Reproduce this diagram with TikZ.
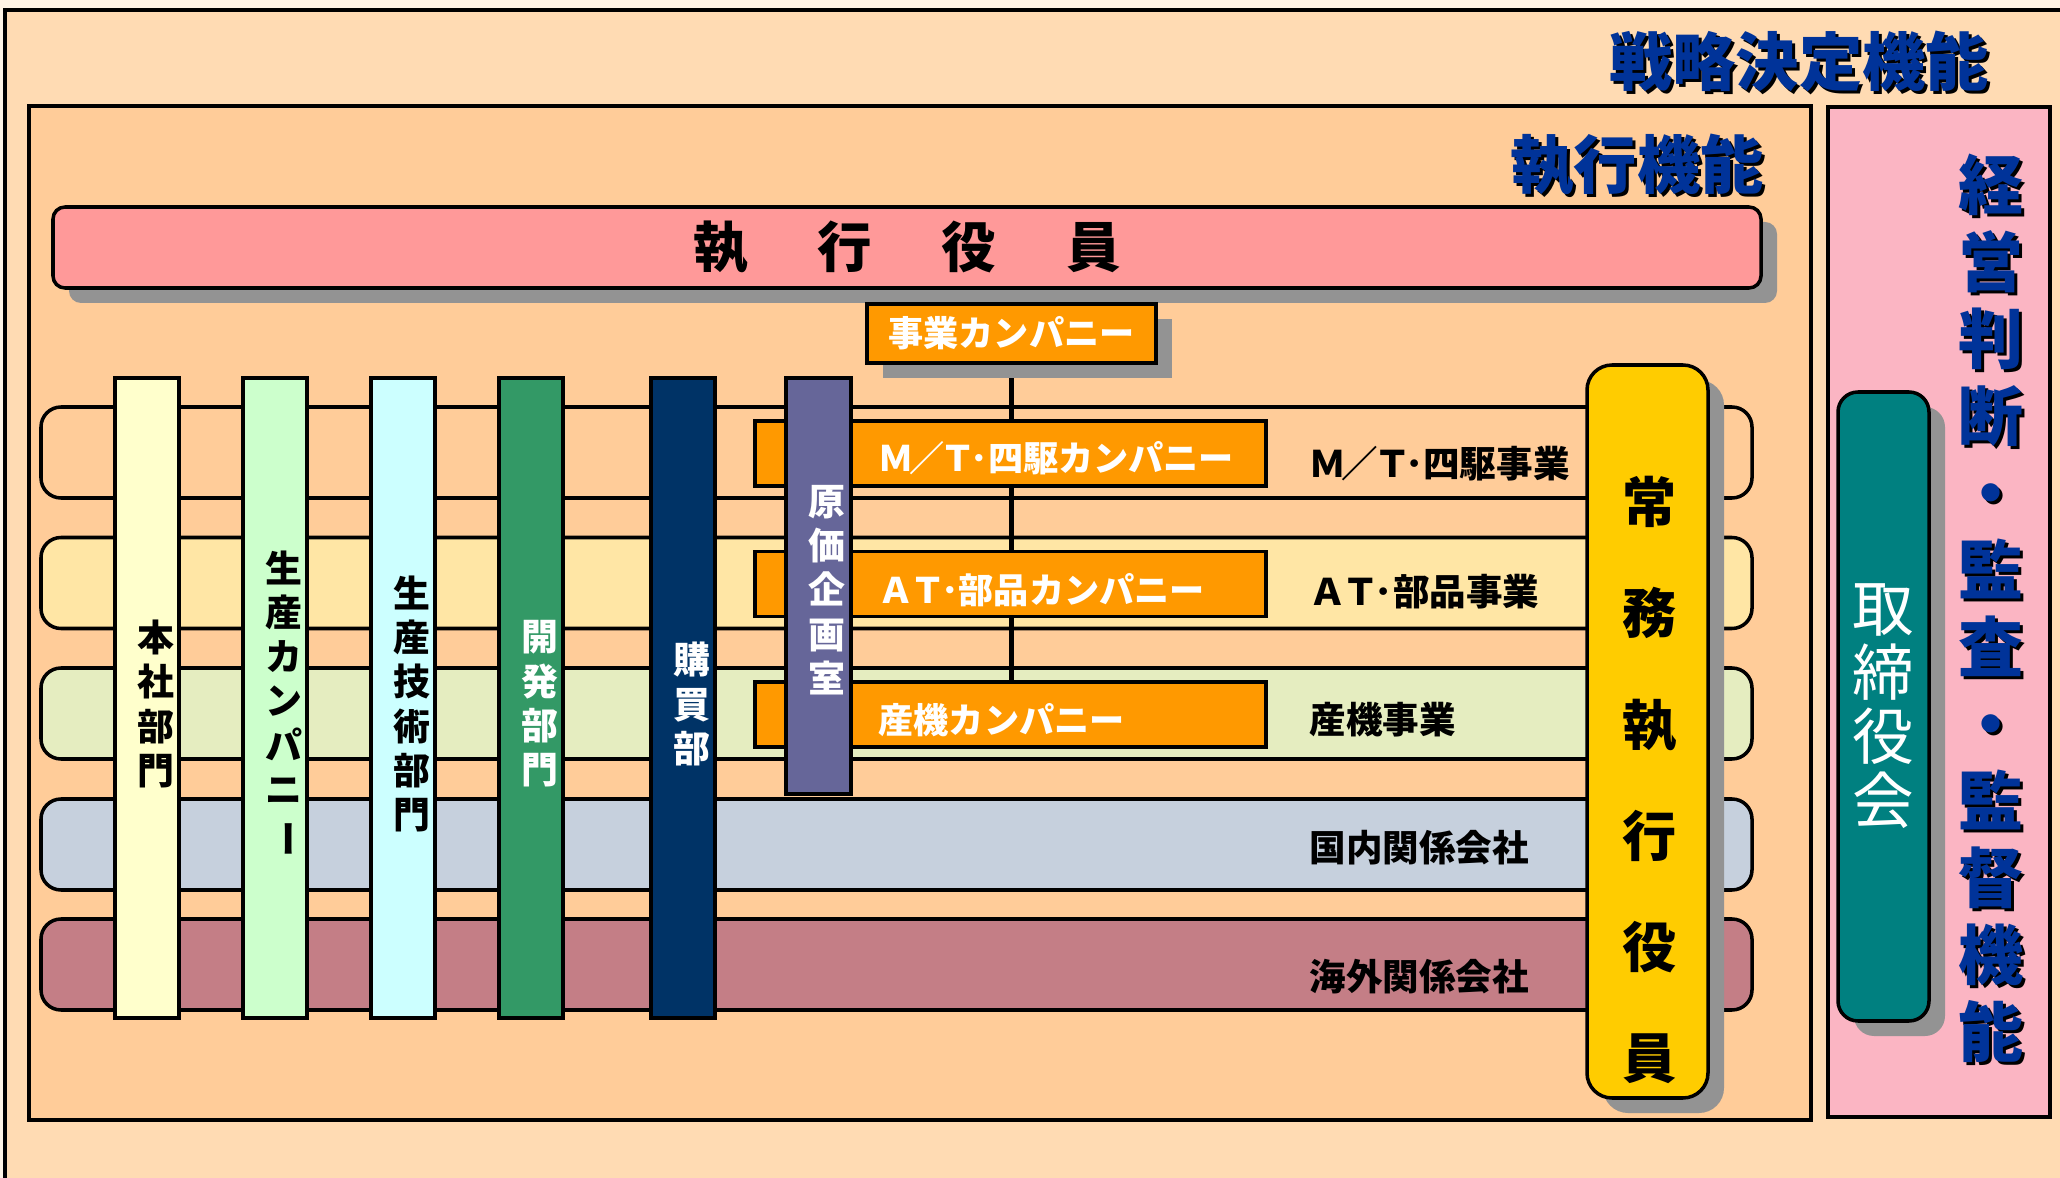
\documentclass[tikz,border=0pt]{standalone}
\usepackage{fontspec}
\setmainfont{Noto Sans CJK JP}
\usepackage{tikz}
\usetikzlibrary{positioning,shadows,backgrounds}
\definecolor{outerbg}{HTML}{FFF4E6}
\definecolor{stratbg}{HTML}{FFDBB3}
\definecolor{execbg}{HTML}{FFCC99}
\definecolor{govbg}{HTML}{FBB5C3}
\definecolor{titleblue}{HTML}{003399}
\definecolor{officerpink}{HTML}{FF9999}
\definecolor{coorange}{HTML}{FF9900}
\definecolor{rowyellow}{HTML}{FFE6A5}
\definecolor{rowgreen}{HTML}{E5EDC0}
\definecolor{rowblue}{HTML}{C6D0DD}
\definecolor{rowplum}{HTML}{C47E86}
\definecolor{hqyellow}{HTML}{FFFFCC}
\definecolor{prodgreen}{HTML}{CCFFCC}
\definecolor{engcyan}{HTML}{CCFFFF}
\definecolor{devgreen}{HTML}{339966}
\definecolor{buynavy}{HTML}{003366}
\definecolor{costslate}{HTML}{666699}
\definecolor{mdgold}{HTML}{FFCC00}
\definecolor{boardteal}{HTML}{008080}
\definecolor{shgrey}{HTML}{939393}
\pgfdeclarelayer{bands}
\pgfdeclarelayer{links}
\pgfsetlayers{bands,links,main}
\newcommand{\shtext}[1]{\leavevmode\rlap{\kern0.03cm\raisebox{-0.03cm}{\color{black}#1}}#1}
\newcommand{\mtpre}{Ｍ\kern-0.12em／\kern-0.12emＴ\kern-0.15em･}
\newcommand{\atpre}{Ａ\kern-0.1emＴ\kern-0.12em･}

\begin{document}
\begin{tikzpicture}[x=1cm,y=-1cm,
  band/.style={draw=black,line width=1pt,rounded corners=0.2cm,minimum width=17.11cm,minimum height=0.91cm,inner sep=0pt},
  dept/.style={draw=black,line width=1pt,minimum width=0.64cm,inner sep=0pt},
  deptname/.style={font=\bfseries\fontsize{10.5}{12.6}\selectfont,align=center,inner sep=0pt},
  cobox/.style={draw=black,line width=1pt,fill=coorange,minimum width=5.11cm,minimum height=0.65cm,inner sep=0pt},
  coname/.style={font=\bfseries\fontsize{10}{12}\selectfont,text=white,anchor=west,inner sep=0pt},
  bizname/.style={font=\bfseries\fontsize{10.4}{12}\selectfont,anchor=west,inner sep=0pt},
  boxshadow/.style={drop shadow={shadow xshift=0.16cm,shadow yshift=-0.15cm,fill=shgrey,opacity=1}},
  ftitle/.style={font=\bfseries\fontsize{18}{20}\selectfont,text=titleblue,inner sep=0pt}]
\useasboundingbox (0,0) rectangle (20.6,11.78);
\begin{pgfonlayer}{bands}
\fill[outerbg] (0,0) rectangle (20.6,11.78);
\draw[fill=stratbg,line width=0.9pt] (0.05,0.10) rectangle (20.80,12.00);
\draw[fill=execbg,line width=0.9pt] (0.29,1.06) rectangle (18.11,11.20);
\draw[fill=govbg,line width=0.9pt] (18.28,1.07) rectangle (20.50,11.17);
% business rows
\node[band,fill=execbg] (mtband) at (8.965,4.525) {};
\node[band,fill=rowyellow] (atband) at (8.965,5.830) {};
\node[band,fill=rowgreen] (sanband) at (8.965,7.135) {};
\node[band,fill=rowblue] (domband) at (8.965,8.445) {};
\node[band,fill=rowplum] (ovsband) at (8.965,9.645) {};
\end{pgfonlayer}

\node[ftitle] (strat) at (17.99,0.625) {\shtext{戦略決定機能}};
\node[ftitle] (execfn) at (16.37,1.66) {\shtext{執行機能}};

\node[draw=black,line width=1pt,fill=officerpink,rounded corners=0.12cm,minimum width=17.08cm,minimum height=0.81cm,boxshadow,font=\bfseries\fontsize{15.5}{18}\selectfont] (officers) at (9.07,2.475) {執\hspace{0.7cm}行\hspace{0.7cm}役\hspace{0.7cm}員};

\node[draw=black,line width=1pt,fill=coorange,minimum width=2.89cm,minimum height=0.59cm,inner sep=0pt,boxshadow,text=white,font=\bfseries\fontsize{10}{12}\selectfont] (biz) at (10.115,3.335) {事業カンパニー};

% companies
\node[cobox] (mtco) at (10.105,4.535) {};
\node[coname] (mtconame) at (8.78,4.585) {\mtpre 四駆カンパニー};
\node[cobox] (atco) at (10.105,5.840) {};
\node[coname] (atconame) at (8.78,5.900) {\atpre 部品カンパニー};
\node[cobox] (sanco) at (10.105,7.145) {};
\node[coname] (sanconame) at (8.78,7.200) {産機カンパニー};
\begin{pgfonlayer}{links}
\draw[line width=1.6pt] (biz.south) -- (biz.south |- sanco.north);
\end{pgfonlayer}

\node[bizname] (mtbiz) at (13.09,4.640) {\mtpre 四駆事業};
\node[bizname] (atbiz) at (13.09,5.915) {\atpre 部品事業};
\node[bizname] (sanbiz) at (13.09,7.200) {産機事業};
\node[bizname] (dombiz) at (13.09,8.480) {国内関係会社};
\node[bizname] (ovsbiz) at (13.09,9.765) {海外関係会社};

% departments
\node[dept,fill=hqyellow,minimum height=6.40cm] (hq) at (1.47,6.98) {};
\node[deptname] (hqname) at (1.555,7.04) {本\\社\\部\\門};
\node[dept,fill=prodgreen,minimum height=6.40cm] (prodco) at (2.75,6.98) {};
\node[deptname] (prodconame) at (2.835,7.04) {生\\産\\カ\\ン\\パ\\ニ\\\rotatebox[origin=c]{-90}{ー}};
\node[dept,fill=engcyan,minimum height=6.40cm] (prodeng) at (4.03,6.98) {};
\node[deptname] (prodengname) at (4.115,7.04) {生\\産\\技\\術\\部\\門};
\node[dept,fill=devgreen,minimum height=6.40cm] (dev) at (5.31,6.98) {};
\node[deptname,text=white] (devname) at (5.395,7.04) {開\\発\\部\\門};
\node[dept,fill=buynavy,minimum height=6.40cm] (buy) at (6.83,6.98) {};
\node[deptname,text=white] (buyname) at (6.915,7.04) {購\\買\\部};
\node[dept,fill=costslate,minimum width=0.65cm,minimum height=4.16cm] (cost) at (8.185,5.86) {};
\node[deptname,text=white] (costname) at (8.27,5.90) {原\\価\\企\\画\\室};

% managing directors
\node[draw=black,line width=1pt,fill=mdgold,rounded corners=0.25cm,minimum width=1.21cm,minimum height=7.33cm,boxshadow] (mdbar) at (16.475,7.315) {};
\node[font=\bfseries\fontsize{15.4}{31.6}\selectfont,align=center,inner sep=0pt] (mdname) at (16.50,7.80) {常\\務\\執\\行\\役\\員};

% board
\node[draw=black,line width=1pt,fill=boardteal,rounded corners=0.2cm,minimum width=0.91cm,minimum height=6.29cm,inner sep=0pt,boxshadow,text=white,font=\fontsize{17.5}{18.2}\selectfont,align=center] (board) at (18.835,7.065) {取\\締\\役\\会};

\node[ftitle,font=\bfseries\fontsize{18.5}{21.9}\selectfont,align=center] (govfn) at (19.91,6.10) {\shtext{経}\\\shtext{営}\\\shtext{判}\\\shtext{断}\\\shtext{・}\\\shtext{監}\\\shtext{査}\\\shtext{・}\\\shtext{監}\\\shtext{督}\\\shtext{機}\\\shtext{能}};
\end{tikzpicture}
\end{document}
